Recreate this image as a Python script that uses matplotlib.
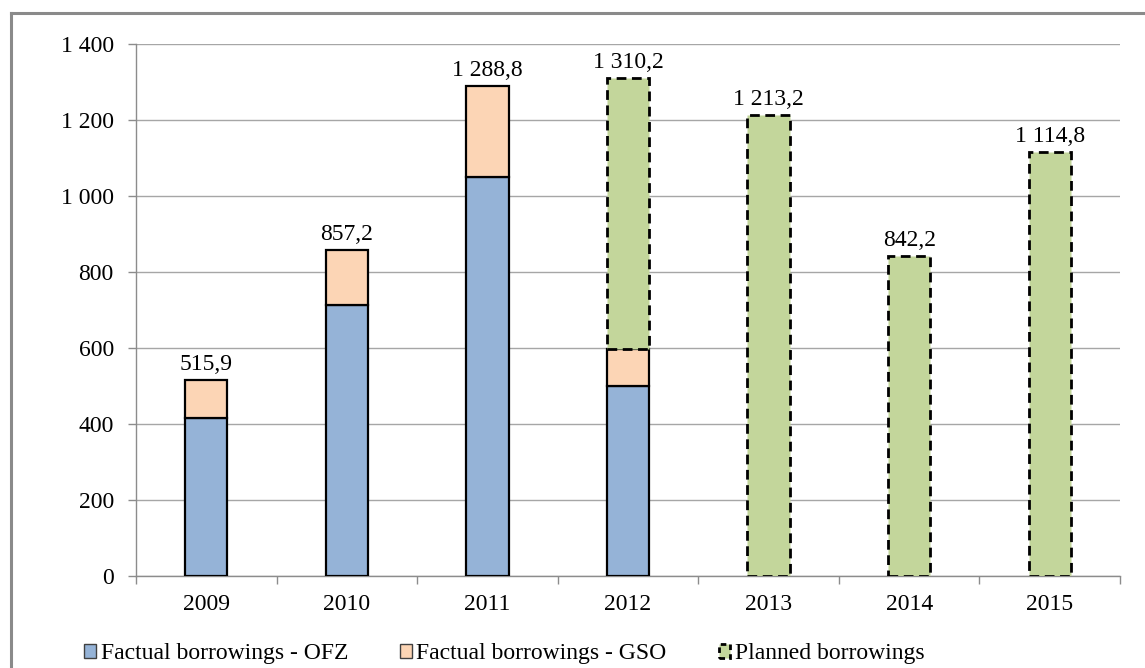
import matplotlib
matplotlib.use("Agg")
import matplotlib.pyplot as plt
from matplotlib.patches import Patch
from matplotlib.lines import Line2D
import numpy as np

years = ["2009", "2010", "2011", "2012", "2013", "2014", "2015"]
ofz = [416.0, 713.0, 1051.0, 500.0, 0.0, 0.0, 0.0]
gso = [99.9, 144.2, 237.8, 97.0, 0.0, 0.0, 0.0]
planned = [0.0, 0.0, 0.0, 713.2, 1213.2, 842.2, 1114.8]
totals = [515.9, 857.2, 1288.8, 1310.2, 1213.2, 842.2, 1114.8]
yticks = [0, 200, 400, 600, 800, 1000, 1200, 1400]

C_OFZ = "#95B3D7"
C_GSO = "#FCD5B5"
C_PLAN = "#C3D69B"
FS = 17

plt.rcParams["font.family"] = ["Liberation Serif", "DejaVu Serif"]

fig = plt.figure(figsize=(11.45, 6.68), dpi=100)
ax = fig.add_axes([136 / 1145, 1 - 576 / 668, (1120 - 136) / 1145, (576 - 44) / 668])

x = np.arange(len(years))
w = 0.3
ofz_a = np.array(ofz)
gso_a = np.array(gso)
plan_a = np.array(planned)

for i in range(len(years)):
    if ofz_a[i] > 0:
        ax.bar(x[i], ofz_a[i], w, color=C_OFZ, edgecolor="black", linewidth=1.6, zorder=3)
    if gso_a[i] > 0:
        ax.bar(x[i], gso_a[i], w, bottom=ofz_a[i], color=C_GSO, edgecolor="black",
               linewidth=1.6, zorder=3)
    if plan_a[i] > 0:
        ax.bar(x[i], plan_a[i], w, bottom=ofz_a[i] + gso_a[i], color=C_PLAN,
               edgecolor="black", linewidth=2.0, linestyle=(0, (3.5, 2)), zorder=3)


def fmt(v):
    return f"{v:,.1f}".replace(",", " ").replace(".", ",")


for i, t in enumerate(totals):
    ax.text(x[i], t + 14, fmt(t), ha="center", va="bottom", fontsize=FS, zorder=4)

ax.set_xlim(-0.5, len(years) - 0.5)
ax.set_ylim(0, 1400)
ax.set_yticks(yticks)
ax.set_yticklabels([f"{v:,}".replace(",", " ") for v in yticks], fontsize=FS)
ax.set_xticks(x)
ax.set_xticklabels(years, fontsize=FS)
ax.set_xticks(np.arange(-0.5, len(years)), minor=True)
ax.tick_params(axis="x", which="major", length=0, pad=13)
ax.tick_params(axis="x", which="minor", length=6, color="#8c8c8c", width=1)
ax.tick_params(axis="y", length=6, color="#8c8c8c", width=1, pad=10)
ax.grid(axis="y", color="#a6a6a6", linewidth=1.0, zorder=0)
ax.set_axisbelow(True)
for s in ["top", "right"]:
    ax.spines[s].set_visible(False)
for s in ["left", "bottom"]:
    ax.spines[s].set_color("#8c8c8c")
    ax.spines[s].set_linewidth(1.0)

handles = [
    Patch(facecolor=C_OFZ, edgecolor="#404040", linewidth=1.0),
    Patch(facecolor=C_GSO, edgecolor="#404040", linewidth=1.0),
    Patch(facecolor=C_PLAN, edgecolor="black", linewidth=2.0, linestyle=(0, (2, 1.5))),
]
labels = ["Factual borrowings - OFZ", "Factual borrowings - GSO", "Planned borrowings"]
fig.legend(handles, labels, loc="center left", bbox_to_anchor=(84 / 1145, 1 - 654 / 668),
           ncol=3, frameon=False, fontsize=FS, handlelength=0.5, handleheight=0.5,
           handletextpad=0.2, columnspacing=2.2, borderaxespad=0, borderpad=0)

# outer chart frame (top and left edges)
fig.add_artist(Line2D([11 / 1145, 1.0], [1 - 13 / 668, 1 - 13 / 668], color="#8a8a8a",
                      linewidth=2.2, transform=fig.transFigure))
fig.add_artist(Line2D([11 / 1145, 11 / 1145], [0.0, 1 - 13 / 668], color="#8a8a8a",
                      linewidth=2.2, transform=fig.transFigure))

fig.savefig("out.png", dpi=100)
